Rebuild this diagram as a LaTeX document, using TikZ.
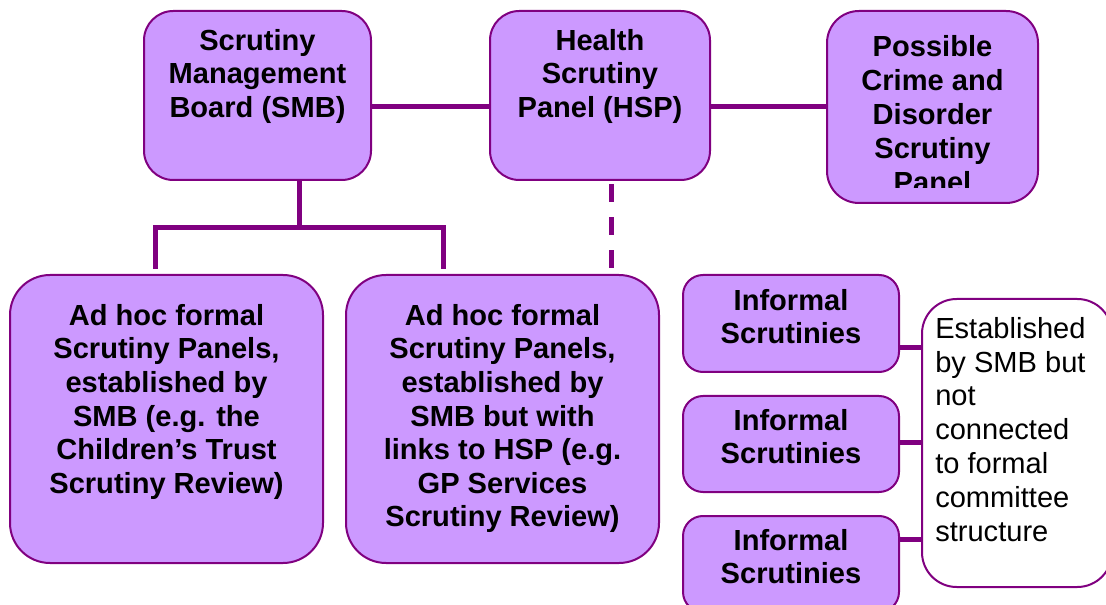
\documentclass[tikz,border=0pt]{standalone}
\usepackage{fontspec}
\setmainfont{Liberation Sans}
\definecolor{boxfill}{HTML}{CC99FF}
\definecolor{boxline}{HTML}{800080}
\begin{document}
\begin{tikzpicture}[x=0.75pt,y=-0.75pt,
  box/.style 2 args={draw=boxline, fill=boxfill, line width=1.5pt, inner sep=0pt,
    minimum width=#1*0.75pt, minimum height=#2*0.75pt},
  notebox/.style 2 args={draw=boxline, fill=white, line width=1.5pt, inner sep=0pt,
    minimum width=#1*0.75pt, minimum height=#2*0.75pt, rounded corners=26pt},
  txt/.style={anchor=north, inner sep=0pt, align=center,
    font=\fontsize{21.8}{25.2}\selectfont\bfseries},
  notetxt/.style={anchor=north west, inner sep=0pt, align=left,
    font=\fontsize{21.8}{25.35}\selectfont},
  conn/.style={draw=boxline, line width=3.75pt}]
\useasboundingbox (0,0) rectangle (1106,605);
% top row
\node[box={227}{169}, rounded corners=22pt] (smb) at (257.5,95.5) {};
\node[txt] (smbt) at (257.5,29) {Scrutiny\\Management\\Board (SMB)};
\node[box={220}{169}, rounded corners=22pt] (hsp) at (600,95.5) {};
\node[txt] (hspt) at (600,29) {Health\\Scrutiny\\Panel (HSP)};
\node[box={211}{192}, rounded corners=24pt] (crime) at (932.5,107) {};
\begin{scope}
\clip (827,11) rectangle (1038,188);
\node[txt, font=\fontsize{21.8}{25.5}\selectfont\bfseries] (crimet) at (932.5,35) {Possible\\Crime and\\Disorder\\Scrutiny\\Panel};
\end{scope}
% bottom row
\node[box={313}{288}, rounded corners=30pt] (adhoc1) at (166.5,419) {};
\node[txt] (adhoc1t) at (166.5,304) {Ad hoc formal\\Scrutiny Panels,\\established by\\SMB (e.g. the\\Children’s Trust\\Scrutiny Review)};
\node[box={313}{288}, rounded corners=30pt] (adhoc2) at (502.5,419) {};
\node[txt] (adhoc2t) at (502.5,304) {Ad hoc formal\\Scrutiny Panels,\\established by\\SMB but with\\links to HSP (e.g.\\GP Services\\Scrutiny Review)};
% informal
\node[box={216}{97}, rounded corners=15pt] (inf1) at (791,323.5) {};
\node[txt] (inf1t) at (791,289) {Informal\\Scrutinies};
\node[box={216}{96}, rounded corners=15pt] (inf2) at (791,444) {};
\node[txt] (inf2t) at (791,409) {Informal\\Scrutinies};
\node[box={216}{96}, rounded corners=15pt] (inf3) at (791,564) {};
\node[txt] (inf3t) at (791,529) {Informal\\Scrutinies};
\node[notebox={190}{288}] (note) at (1017,443) {};
\node[notetxt] (notet) at (935,317) {Established\\by SMB but\\not\\connected\\to formal\\committee\\structure};
% connectors
\coordinate (y107) at (0,107);
\draw[conn] (smb.east |- y107) -- (hsp.west |- y107);
\draw[conn] (hsp.east |- y107) -- (crime.west |- y107);
\coordinate (j) at (299,228);
\coordinate (b1) at (155,269);
\coordinate (b2) at (443,269);
\draw[conn] (smb.south -| j) -- (j);
\draw[conn, line join=miter] (b1) -- (b1 |- j) -- (b2 |- j) -- (b2);
\coordinate (d) at (611,268);
\draw[conn, dash pattern=on 13.5pt off 11.25pt] (d) -- (d |- hsp.south);
\coordinate (y348) at (0,348);
\coordinate (y443) at (0,443);
\coordinate (y539) at (0,539);
\draw[conn] (inf1.east |- y348) -- (note.west |- y348);
\draw[conn] (inf2.east |- y443) -- (note.west |- y443);
\draw[conn] (inf3.east |- y539) -- (note.west |- y539);
\end{tikzpicture}
\end{document}
